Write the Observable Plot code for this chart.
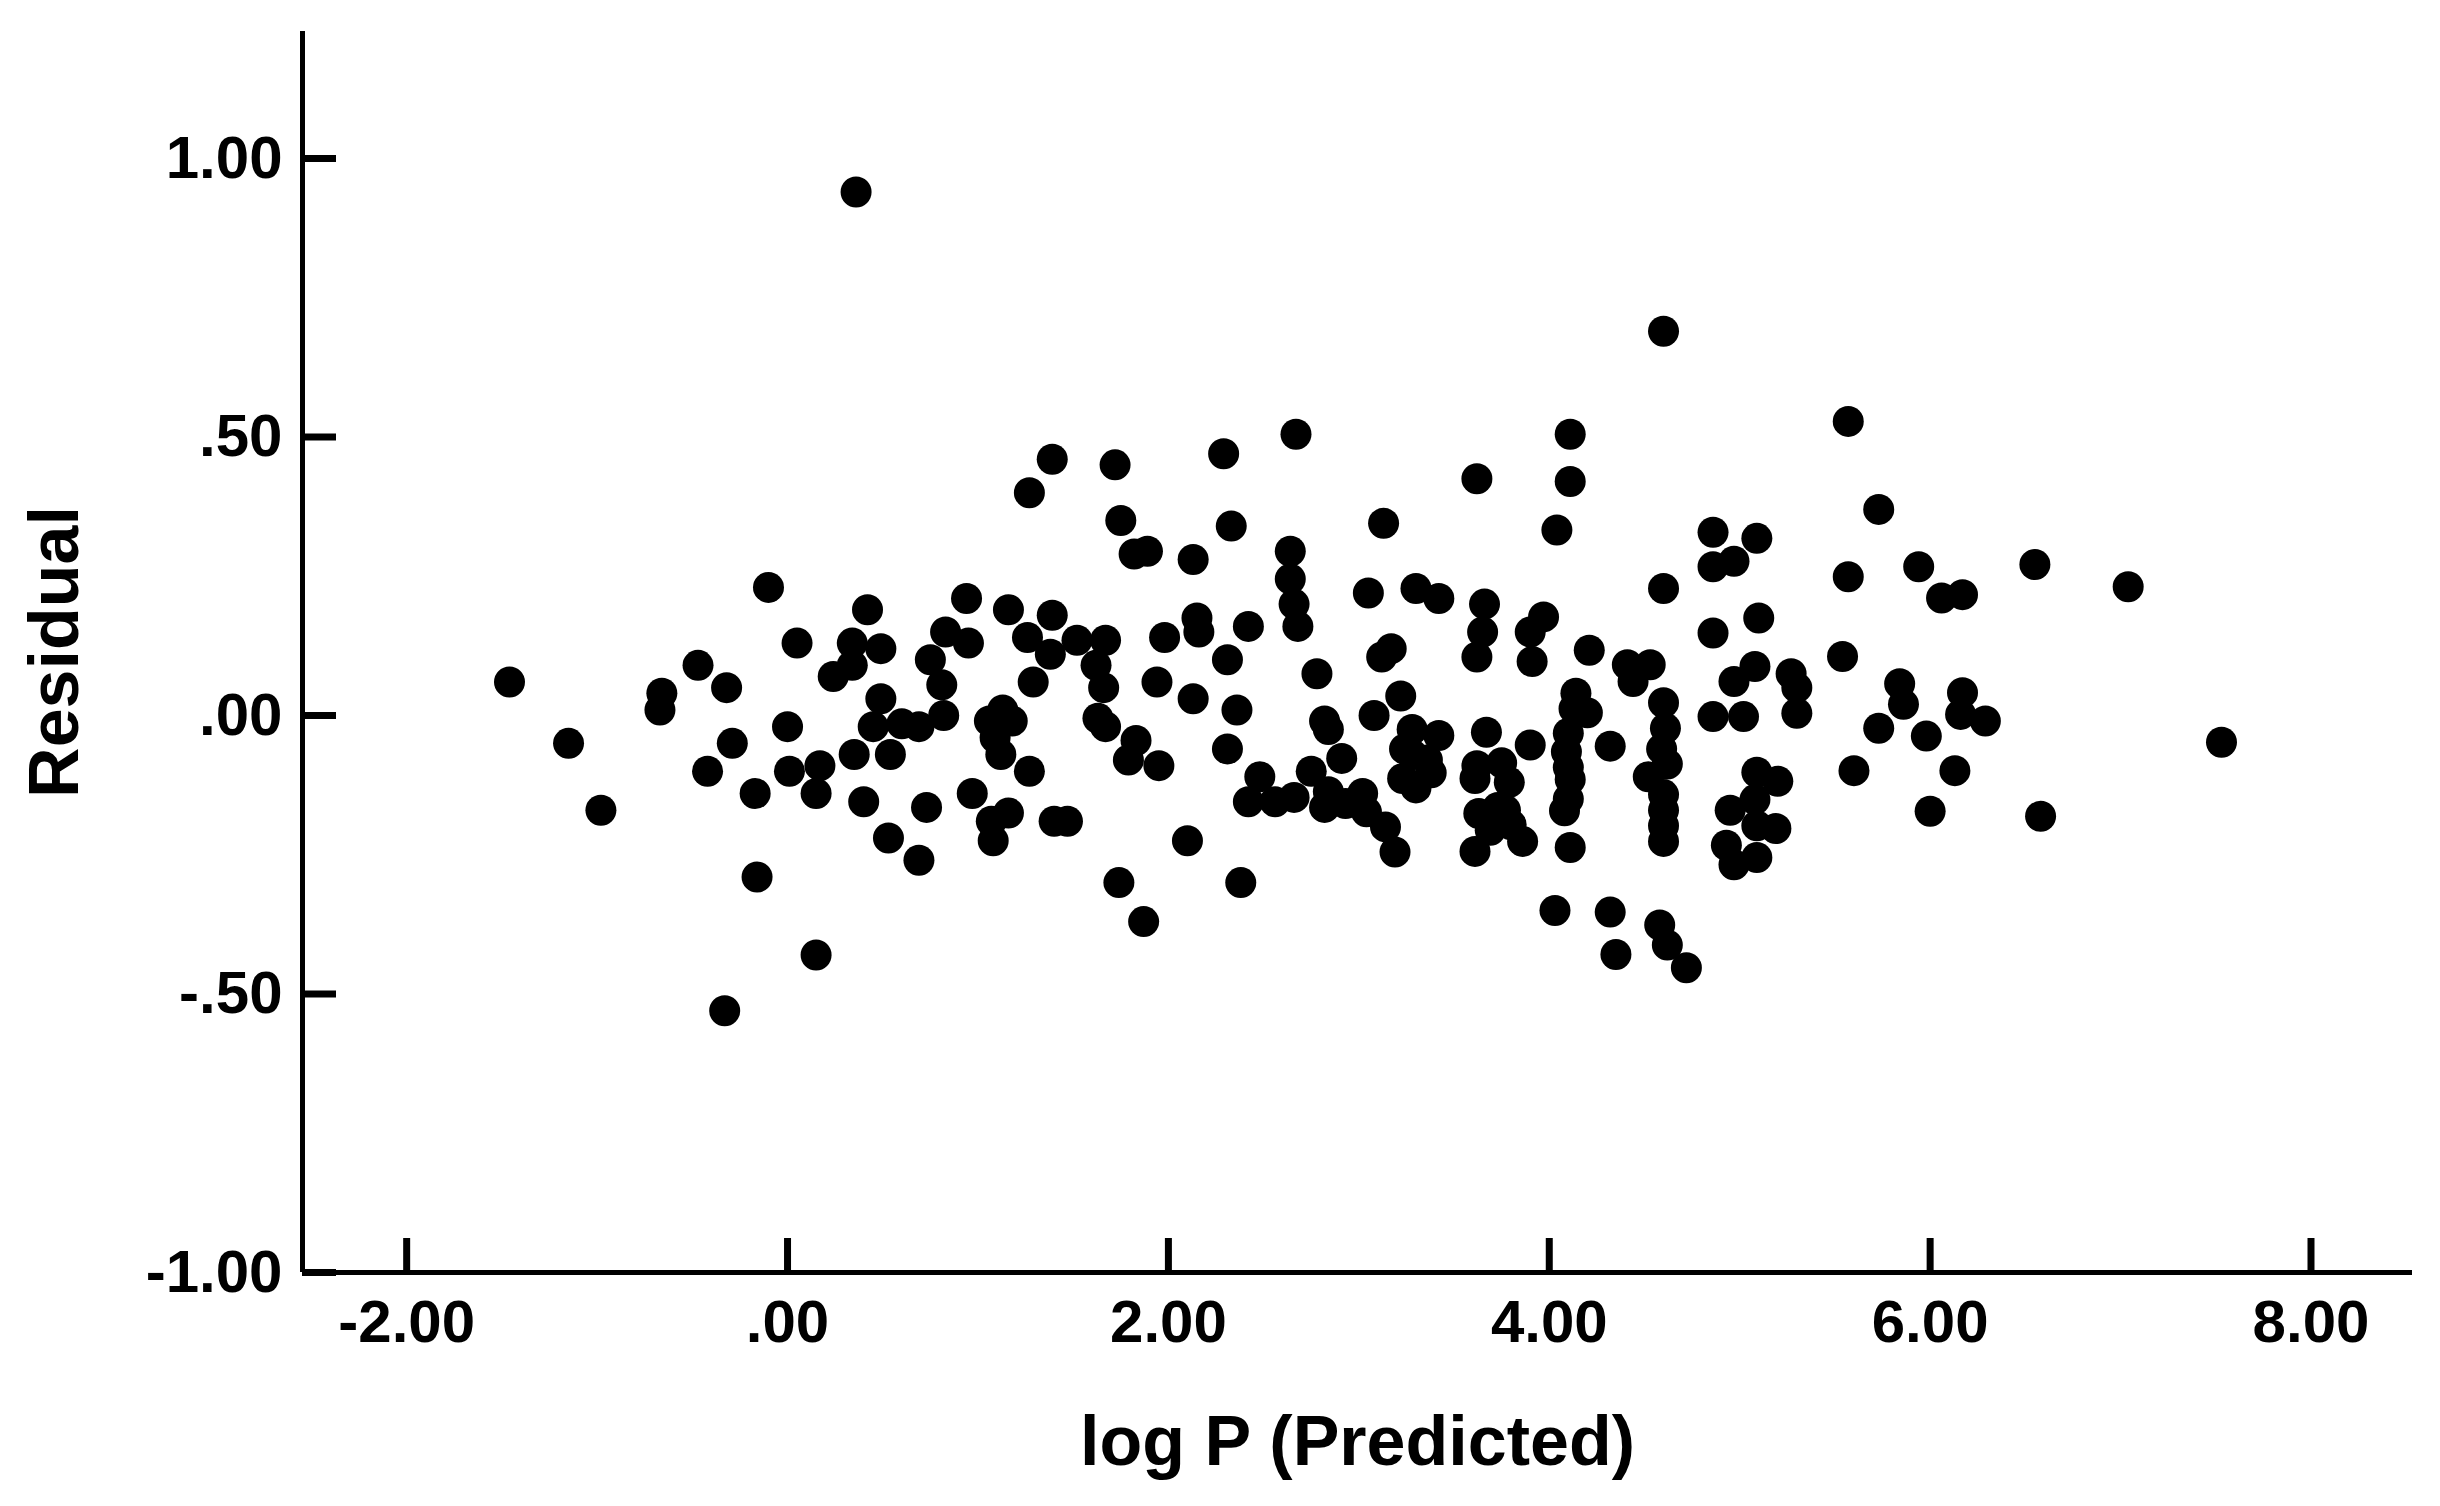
<!DOCTYPE html>
<html>
<head>
<meta charset="utf-8">
<script src="https://cdn.jsdelivr.net/npm/d3@7"></script>
<script src="https://cdn.jsdelivr.net/npm/@observablehq/plot@0.6"></script>
<style>
  html, body { margin: 0; padding: 0; background: #fff; }
  #chart svg g[aria-label="x-axis label"],
  #chart svg g[aria-label="y-axis label"] { font-size: 70px; }
</style>
</head>
<body>
<div id="chart"></div>
<script>
const xTicks = [-2, 0, 2, 4, 6, 8];
const yTicks = [-1, -0.5, 0, 0.5, 1];
const xLabel = "log P (Predicted)";
const yLabel = "Residual";

const logP = [
  -1.46, -1.15, -0.98, -0.66, -0.67, -0.47, -0.42, -0.33, -0.32, -0.29, -0.17, -0.16, -0.10, 0.00, 0.01, 0.05,
  0.17, 0.15, 0.15, 0.24, 0.34, 0.34, 0.35, 0.36, 0.42, 0.40, 0.45, 0.49, 0.49, 0.54, 0.53, 0.60, 0.69, 0.69,
  0.73, 0.75, 0.81, 0.82, 0.83, 0.94, 0.95, 0.97,
  1.06, 1.13, 1.18, 1.09, 1.12, 1.16, 1.26, 1.27, 1.27, 1.29, 1.38, 1.39, 1.39, 1.07, 1.16, 1.08, 1.40, 1.47,
  1.52, 1.67, 1.62, 1.66, 1.63, 1.67, 1.72, 1.75, 1.74, 1.79, 1.83, 1.82, 1.89, 1.87, 1.94, 1.95, 1.98,
  2.13, 2.15, 2.16, 2.13, 2.10, 2.29, 2.33, 2.31, 2.36, 2.31, 2.38, 2.42, 2.48, 2.42, 2.56, 2.66, 2.64, 2.64,
  2.66, 2.68, 2.67, 2.75, 2.78, 2.82, 2.84, 2.84, 2.82, 2.91, 2.93,
  3.02, 3.04, 3.05, 3.08, 3.13, 3.12, 3.17, 3.14, 3.19, 3.22, 3.24, 3.28, 3.28, 3.36, 3.23, 3.30, 3.38, 3.30,
  3.42, 3.42, 3.62, 3.66, 3.65, 3.62, 3.67, 3.62, 3.61, 3.75, 3.79, 3.63, 3.73, 3.80, 3.86, 3.61, 3.69, 3.77,
  3.90, 3.97, 3.90, 3.91,
  4.03, 4.04, 4.11, 4.11, 4.14, 4.13, 4.20, 4.10, 4.09, 4.10, 4.11, 4.10, 4.08, 4.11, 4.21, 4.32, 4.32, 4.35,
  4.41, 4.53, 4.44, 4.60, 4.60, 4.60, 4.61, 4.59, 4.62, 4.52, 4.60, 4.60, 4.60, 4.60, 4.58, 4.62, 4.72,
  4.86, 4.86, 4.97, 4.86, 4.86, 4.97, 4.95, 4.93, 4.97,
  5.09, 5.10, 5.08, 5.02, 5.27, 5.30, 5.30, 5.09, 5.20, 5.08, 5.09, 5.19, 5.09, 5.54, 5.57, 5.57, 5.60, 5.73,
  5.73, 5.84, 5.86, 5.94, 5.98, 6.00, 6.06, 6.17, 6.17, 6.16, 6.29, 6.13, 6.55, 6.58, 7.04, 7.53
];

const residual = [
  0.06, -0.05, -0.17, 0.04, 0.01, 0.09, -0.10, -0.53, 0.05, -0.05, -0.14, -0.29, 0.23, -0.02, -0.10, 0.13,
  -0.09, -0.14, -0.43, 0.07, 0.13, 0.09, -0.07, 0.94, 0.19, -0.155, -0.02, 0.12, 0.03, -0.07, -0.22, -0.015, -0.02, -0.26,
  -0.165, 0.10, 0.055, 0.00, 0.15, 0.21, 0.13, -0.14,
  -0.01, 0.01, -0.01, -0.04, -0.07, 0.19, 0.14, 0.40, -0.10, 0.06, 0.11, 0.46, 0.18, -0.19, -0.175, -0.225, -0.19, -0.19,
  0.135, 0.135, 0.09, 0.05, -0.005, -0.02, 0.45, 0.35, -0.30, -0.08, -0.045, 0.29, 0.295, -0.37, 0.06, -0.09, 0.14,
  0.28, 0.175, 0.15, 0.03, -0.225, 0.47, 0.34, 0.10, 0.01, -0.06, -0.30, 0.16, -0.11, -0.155, -0.155, -0.147, 0.295, 0.245,
  0.20, 0.16, 0.505, -0.10, 0.075, -0.01, -0.025, -0.137, -0.165, -0.077, -0.158,
  -0.14, -0.173, 0.22, 0.00, 0.345, 0.105, 0.12, -0.20, -0.245, 0.035, -0.06, -0.025, -0.07, -0.08, -0.113, -0.13, -0.103, 0.228,
  0.21, -0.036, 0.425, 0.20, 0.15, 0.105, -0.03, -0.09, -0.113, -0.085, -0.12, -0.176, -0.165, -0.196, -0.226, -0.244, -0.206, -0.17,
  -0.053, 0.177, 0.15, 0.097,
  -0.35, 0.333, 0.505, 0.42, 0.04, 0.012, 0.005, -0.032, -0.065, -0.093, -0.115, -0.15, -0.171, -0.237, 0.117, -0.055, -0.353, -0.429,
  0.091, 0.091, 0.061, 0.69, 0.228, 0.023, -0.023, -0.06, -0.087, -0.11, -0.142, -0.17, -0.198, -0.226, -0.376, -0.412, -0.453,
  0.329, 0.267, 0.277, 0.148, -0.002, 0.061, -0.17, -0.233, -0.268,
  0.318, 0.175, 0.088, -0.002, 0.075, 0.05, 0.004, -0.102, -0.118, -0.151, -0.198, -0.203, -0.255, 0.106, 0.528, 0.249, -0.099, 0.37,
  -0.023, 0.057, 0.02, 0.267, -0.037, -0.172, 0.211, 0.217, 0.041, 0.002, -0.01, -0.099, 0.271, -0.181, 0.231, -0.048
];

const points = logP.map((x, i) => ({x, y: residual[i]}));

const xDomain = [-2.547, 8.533];
const yDomain = [-1.0, 1.228];

const fmt = d => {
  const s = Math.abs(d).toFixed(2).replace(/^0\./, ".");
  return (d < 0 ? "-" : "") + s;
};

const W = 2440, H = 1506;
const mL = 302, mR = 28, mT = 31, mB = 234;
const frameW = W - mL - mR, frameH = H - mT - mB;
const tickLen = 34;

const chart = Plot.plot({
  width: W,
  height: H,
  marginLeft: mL,
  marginRight: mR,
  marginTop: mT,
  marginBottom: mB,
  x: {domain: xDomain},
  y: {domain: yDomain},
  style: {
    fontFamily: "'Liberation Sans', Arial, sans-serif",
    fontWeight: "bold",
    background: "#fff",
    color: "#000",
    overflow: "visible"
  },
  marks: [
    Plot.axisX(xTicks, {
      tickSize: 0, tickPadding: 27, tickFormat: fmt, fontSize: 60,
      label: xLabel, labelAnchor: "center", labelArrow: "none", labelOffset: 192
    }),
    Plot.axisY(yTicks, {
      tickSize: 0, tickPadding: 20, tickFormat: fmt, fontSize: 60,
      label: yLabel, labelAnchor: "center", labelArrow: "none", labelOffset: 274
    }),
    Plot.ruleX([xDomain[0]], {stroke: "#000", strokeWidth: 5}),
    Plot.ruleY([yDomain[0]], {stroke: "#000", strokeWidth: 5}),
    Plot.tickX(xTicks, {x: d => d, insetTop: frameH - tickLen, stroke: "#000", strokeWidth: 7}),
    Plot.tickY(yTicks, {y: d => d, insetRight: frameW - tickLen, stroke: "#000", strokeWidth: 7}),
    Plot.dot(points, {x: "x", y: "y", r: 15.5, fill: "#000"})
  ]
});

document.getElementById("chart").appendChild(chart);
</script>
</body>
</html>
